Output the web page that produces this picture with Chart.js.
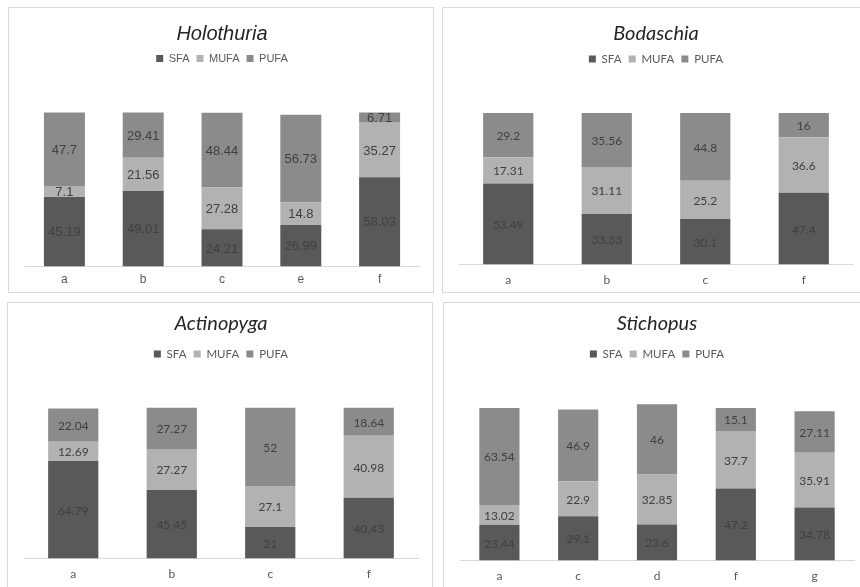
<!DOCTYPE html>
<html>
<head>
<meta charset="utf-8">
<script src="https://cdn.jsdelivr.net/npm/chart.js@4.4.1/dist/chart.umd.min.js"></script>
<style>
  html, body { margin: 0; padding: 0; background: #fff; overflow: hidden; }
  body { width: 860px; height: 587px; position: relative; }
  .panel { position: absolute; width: 426px; height: 286px; border: 1px solid #d9d9d9; box-sizing: border-box; }
  .panel canvas { position: absolute; left: 0; top: 0; }
</style>
</head>
<body>

<div class="panel" style="left:8px; top:7px;"><canvas id="holoChart" width="426" height="286"></canvas></div>
<div class="panel" style="left:442px; top:7px;"><canvas id="bodaChart" width="426" height="288"></canvas></div>
<div class="panel" style="left:7px; top:302px;"><canvas id="actiChart" width="426" height="288"></canvas></div>
<div class="panel" style="left:443px; top:302px;"><canvas id="stichChart" width="426" height="289"></canvas></div>

<script>
// series names and colours
var seriesNames = ["SFA", "MUFA", "PUFA"];
var seriesColors = ["#595959", "#b2b2b2", "#8b8b8b"];

// Holothuria
var holoLabels = ["a", "b", "c", "e", "f"];
var holoSFA = [45.19, 49.01, 24.21, 26.99, 58.03];
var holoMUFA = [7.1, 21.56, 27.28, 14.8, 35.27];
var holoPUFA = [47.7, 29.41, 48.44, 56.73, 6.71];

// Bodaschia
var bodaLabels = ["a", "b", "c", "f"];
var bodaSFA = [53.49, 33.33, 30.1, 47.4];
var bodaMUFA = [17.31, 31.11, 25.2, 36.6];
var bodaPUFA = [29.2, 35.56, 44.8, 16];

// Actinopyga
var actiLabels = ["a", "b", "c", "f"];
var actiSFA = [64.79, 45.45, 21, 40.43];
var actiMUFA = [12.69, 27.27, 27.1, 40.98];
var actiPUFA = [22.04, 27.27, 52, 18.64];

// Stichopus
var stichLabels = ["a", "c", "d", "f", "g"];
var stichSFA = [23.44, 29.1, 23.6, 47.2, 34.78];
var stichMUFA = [13.02, 22.9, 32.85, 37.7, 35.91];
var stichPUFA = [63.54, 46.9, 46, 15.1, 27.11];

// writes each segment's value in the middle of it
var segmentLabels = {
    id: 'segmentLabels',
    afterDatasetsDraw(chart, args, opts) {
        var ctx = chart.ctx;
        ctx.save();
        ctx.font = opts.font;
        ctx.fillStyle = opts.color;
        ctx.textAlign = 'center';
        ctx.textBaseline = 'middle';
        chart.data.datasets.forEach(function (ds, i) {
            var meta = chart.getDatasetMeta(i);
            meta.data.forEach(function (bar, j) {
                var y = (bar.y + bar.base) / 2;
                ctx.fillText(String(ds.data[j]), bar.x, y + 1);
            });
        });
        ctx.restore();
    }
};

function makeChart(id, title, labels, sfa, mufa, pufa, font, sizes) {
    var data = {
        labels: labels,
        datasets: [sfa, mufa, pufa].map(function (vals, i) {
            return {
                label: seriesNames[i],
                data: vals,
                backgroundColor: seriesColors[i],
                borderWidth: 0,
                categoryPercentage: 1,
                barPercentage: sizes.bar
            };
        })
    };
    return new Chart(document.getElementById(id).getContext('2d'), {
        type: 'bar',
        data: data,
        plugins: [segmentLabels],
        options: {
            responsive: false,
            animation: false,
            layout: { padding: { left: 16, right: 16, top: 0, bottom: sizes.bottom } },
            scales: {
                x: {
                    stacked: true,
                    grid: { display: false, drawTicks: false },
                    border: { display: true, color: '#d9d9d9', width: 1 },
                    ticks: { color: '#595959', font: { family: font, size: 12 }, padding: sizes.tickPad }
                },
                y: {
                    stacked: true,
                    display: false,
                    min: 0,
                    max: sizes.max
                }
            },
            plugins: {
                title: {
                    display: true,
                    text: title,
                    color: '#262626',
                    font: { family: font, size: 20, style: 'italic', weight: 'normal' },
                    padding: sizes.titlePad
                },
                legend: {
                    display: true,
                    labels: {
                        color: '#595959',
                        font: { family: font, size: sizes.legend },
                        boxWidth: 7,
                        boxHeight: 7,
                        padding: sizes.legendPad
                    }
                },
                tooltip: { enabled: false },
                segmentLabels: { font: sizes.valueFont, color: '#404040' }
            }
        }
    });
}

makeChart('holoChart', 'Holothuria', holoLabels, holoSFA, holoMUFA, holoPUFA, 'Liberation Sans', {
    bar: 0.52, max: 125, bottom: 1, tickPad: 6, legend: 11, legendPad: 7,
    titlePad: { top: 14, bottom: 0 }, valueFont: '13px "Liberation Sans"'
});
makeChart('bodaChart', 'Bodaschia', bodaLabels, bodaSFA, bodaMUFA, bodaPUFA, 'Lato', {
    bar: 0.51, max: 125.3, bottom: 1, tickPad: 8, legend: 11.5, legendPad: 7.2,
    titlePad: { top: 14, bottom: 0 }, valueFont: '12px Lato'
});
makeChart('actiChart', 'Actinopyga', actiLabels, actiSFA, actiMUFA, actiPUFA, 'Lato', {
    bar: 0.51, max: 125.3, bottom: 2, tickPad: 8, legend: 11.5, legendPad: 7.2,
    titlePad: { top: 9, bottom: 5 }, valueFont: '12px Lato'
});
makeChart('stichChart', 'Stichopus', stichLabels, stichSFA, stichMUFA, stichPUFA, 'Lato', {
    bar: 0.51, max: 125, bottom: 1, tickPad: 8, legend: 11.5, legendPad: 7.2,
    titlePad: { top: 9, bottom: 5 }, valueFont: '12px Lato'
});
</script>
</body>
</html>
